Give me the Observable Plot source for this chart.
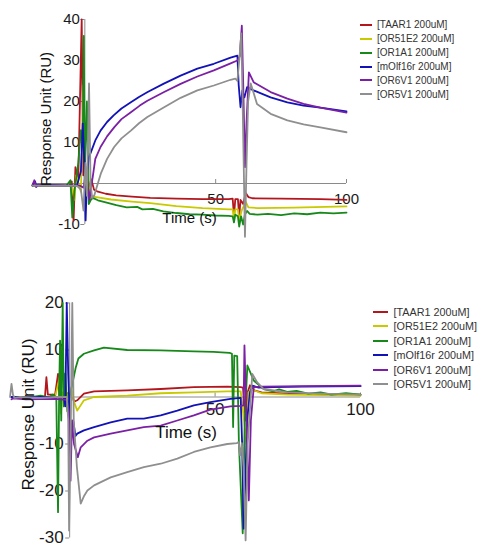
<!DOCTYPE html>
<html>
<head>
<meta charset="utf-8">
<script src="https://cdn.jsdelivr.net/npm/d3@7"></script>
<script src="https://cdn.jsdelivr.net/npm/@observablehq/plot@0.6"></script>
<style>
  body { margin: 0; background: #fff; font-family: "Liberation Sans", Arial, sans-serif; }
  #wrap { position: relative; width: 488px; height: 549px; overflow: hidden; }
  .panel { position: absolute; left: 0; }
  .legend { position: absolute; color: #333; }
  .row { display: flex; align-items: center; white-space: nowrap; }
  .sw { display: inline-block; height: 2px; }
</style>
</head>
<body>
<div id="wrap">
  <div id="top" class="panel" style="top:0px"></div>
  <div id="bot" class="panel" style="top:280px"></div>
  <div id="legTop" class="legend" style="left:360px; top:18px"></div>
  <div id="legBot" class="legend" style="left:373px; top:304.5px"></div>
</div>
<script>
// ---------- series labels & colours ----------
const seriesNames = ["[TAAR1 200uM]", "[OR51E2 200uM]", "[OR1A1 200uM]", "[mOlf16r 200uM]", "[OR6V1 200uM]", "[OR5V1 200uM]"];
const seriesColors = ["#b3161d", "#c9c900", "#17891a", "#1212b8", "#7b20a4", "#8f8f8f"];

// ---------- axis ticks ----------
const xTickValues = [50, 100];
const yTicksTop = [-10, 10, 20, 30, 40];
const yTicksBot = [-30, -20, -10, 10, 20];
const xLabel = "Time (s)";
const yLabel = "Response Unit (RU)";

// ---------- top panel: [time s, RU] ----------
const topTAAR1 = [[-20,-0.5],[-8,-0.5],[-6,-0.6],[-5,0.5],[-4.3,-9],[-3.6,4],[-2.5,1],[-1.2,40],[-0.6,2],[0.5,3],[1.5,-1],[2.5,1],[3.5,-1.5],[5,-2],[8,-2.5],[12,-2.9],[18,-3.2],[25,-3.5],[35,-3.7],[45,-3.8],[55,-3.8],[56.5,-3.7],[57,-8],[57.5,-3.8],[58.5,-3.8],[59,-8],[59.5,-4],[60.5,-5],[61.5,-2.3],[62.5,-3.3],[64,-3.6],[75,-3.7],[90,-3.8],[100,-4]];
const topOR51E2 = [[-20,-0.5],[-7,-0.5],[-5,-0.5],[-4,-4],[-3.3,2],[-1.5,-2],[-0.5,24],[0.2,-3],[1,3],[2,-3.5],[3,-3.2],[5,-3.4],[10,-3.9],[18,-4.4],[25,-4.8],[35,-5.5],[45,-6],[55,-6.3],[56.5,-6.3],[57,-8.5],[57.5,-6.3],[58.5,-6.3],[59,-9],[60,-6.5],[61.5,-4.5],[62.5,-5.8],[66,-6],[80,-5.9],[100,-5.6]];
const topOR1A1 = [[-20,-0.5],[-7,-0.5],[-5.5,0.8],[-4.8,-8.3],[-4,-2],[-2.5,5],[-1.5,13],[-0.8,10],[-0.4,36],[0,3],[0.8,20],[1.5,-5],[2.3,-4],[3,-3.5],[5,-4.1],[8,-4.6],[12,-5.3],[16,-5.8],[20,-5.7],[22,-6.3],[26,-6.2],[30,-6.8],[35,-7.2],[40,-7.5],[45,-7.6],[50,-7.8],[55,-7.9],[56.5,-8],[57,-9.5],[57.5,-7.6],[58.5,-8],[59,-10.5],[59.7,-8],[60.5,-10],[61.2,-7.5],[62,-6.7],[63,-7.4],[66,-7.6],[70,-7.4],[75,-7.7],[80,-7.3],[85,-7.5],[90,-7.1],[95,-7.3],[100,-7.1]];
const topMOlf16r = [[-20,-0.5],[-19,0.5],[-18.5,-0.8],[-18,-0.3],[-7,-0.5],[-3,-0.5],[-1.5,3],[-0.8,14.6],[-0.2,5],[0.3,-9],[0.9,3],[1.6,6.5],[2.3,7.6],[4,10.5],[6,12.9],[8.5,15],[11,16.6],[14,18.3],[17.6,19.8],[20.7,21.1],[24,22.3],[30,24.3],[36.6,26.3],[43,28],[49.3,29.2],[55.7,30.7],[58.3,31.2],[58.8,24],[59.5,18.6],[60.2,22.7],[61,21],[62,23.5],[64.5,22.7],[71,21],[77.4,19.8],[83.6,19],[90,18.5],[100,17.6]];
const topOR6V1 = [[-20,-0.3],[-19.3,0.8],[-18.7,-0.8],[-18,-0.4],[-7,-0.5],[-2,-0.5],[-0.5,-1],[0.5,3],[1.2,-1],[1.8,-4],[2.3,-1.3],[3,1.5],[4,6],[6,8.9],[8.5,11.5],[11.2,13.7],[14,15.7],[17.6,17.4],[21,19],[23.9,20.2],[30.3,22.3],[36.6,24.3],[43,26.1],[49.3,27.6],[55.7,29.3],[58.3,30],[59.2,31],[60,38.5],[60.5,25],[61.2,4],[61.8,15],[62.7,27.1],[64.5,24.7],[71,22.3],[77.4,20.7],[83.6,19.4],[90,18.5],[100,17.3]];
const topOR5V1 = [[-20,-0.5],[-7,-0.6],[-3,-0.6],[-1.5,-1.5],[-0.5,-6.6],[0.2,5],[0.8,-3],[1.6,24.4],[2.2,0],[2.8,-3.5],[3.6,-2.9],[4.5,-1],[6.1,2.4],[8.5,6],[11.2,8.9],[14,11],[17.6,12.9],[20.7,14.7],[23.9,16.2],[30.3,18.6],[36.6,20.9],[43,22.7],[49.3,23.9],[55.7,25.3],[57.5,25.6],[58.3,25],[59,30],[59.8,36.6],[60.3,20],[61.2,-13],[61.8,5],[62.4,20],[63.4,24.4],[65.8,19.4],[71,17],[77.4,15.4],[83.6,14.4],[90,13.7],[100,12.5]];

// ---------- bottom panel: [time s, RU] ----------
const botTAAR1 = [[-20,0],[-8.5,0],[-8,4.2],[-7.5,0.5],[-5,0.5],[-4,4.9],[-3.5,0],[-2,1],[-1,0.5],[0.5,1.5],[1.5,-1],[2.6,-0.7],[4.9,0.7],[8.4,1.2],[19.8,1.4],[31.3,1.7],[42.7,2.1],[54.2,2.2],[58.8,2.1],[59.6,2],[60.5,-5],[61.2,1],[62,2.5],[63.4,1.4],[66,1],[75,0.7],[100,0.5]];
const botOR51E2 = [[-20,0],[-5,0],[-3.3,4.6],[-3,-3.5],[-2.5,1],[-1,0],[0.5,2],[1.5,-1],[2.6,-2.9],[4.9,-0.7],[8.4,0],[19.8,0.3],[31.3,0.8],[42.7,1],[54.2,1.2],[58.8,1.2],[60,-5],[60.8,-10],[61.5,1],[63,1.5],[66,0.8],[75,0.5],[100,0.3]];
const botOR1A1 = [[-20,0],[-15,-0.2],[-10,0.3],[-7,-0.1],[-6,0.5],[-4.6,0],[-4,-24.5],[-3.6,2],[-3.3,12],[-2.9,-5],[-2.4,20],[-2,-2],[-1.5,5],[-0.8,-3],[0,0],[1,3],[2.1,6.3],[3,8.2],[4.9,9.2],[8.4,9.9],[11.8,10.5],[19.8,10],[31.3,9.9],[42.7,9.7],[49.5,9.6],[55,9.4],[55.8,9.2],[56.2,-6.4],[56.6,8.8],[57.6,8.7],[58.2,-10],[59.5,-29],[60.2,-5],[61.1,6.7],[63.3,3.5],[66.7,1.7],[70,1.2],[72,1.6],[74.8,1.1],[78,1.3],[82,0.7],[86.3,1],[90,0.5],[95,0.8],[100,0.5]];
const botMOlf16r = [[-20,0],[-2,0],[-1.5,-2],[-1,20],[-0.5,5],[0,-4],[0.5,-8],[1.2,-5],[2,-8.3],[2.6,-7.8],[4.9,-7.1],[8.4,-6.4],[14.1,-5.4],[19.8,-4.6],[25.5,-4.6],[31.3,-3.9],[37,-2.9],[42.7,-1.8],[48.4,-1.1],[55.3,-0.4],[58.8,-0.2],[59.3,-10],[59.8,-28],[60.3,-20],[61,-5],[62,1],[62.8,2.4],[65,2],[70,2.1],[80,2.2],[100,2.3]];
const botOR6V1 = [[-20,-0.5],[-19.5,-0.3],[-15,-0.5],[-5,-0.4],[-1,-0.6],[-0.3,-3],[0.3,-17.8],[0.8,-5],[1.5,-10],[2.8,-12.8],[3.8,-10.7],[6.1,-9.3],[8.4,-8.6],[14.1,-7.8],[19.8,-7.1],[25.5,-6.4],[31.3,-6.1],[37,-5],[42.7,-3.9],[48.4,-2.7],[55.3,-2],[58.8,-1.9],[59.8,-1.8],[60.1,11],[60.8,-5],[61.6,-22],[62.3,-5],[63.3,2.1],[66,2.2],[80,2.3],[100,2.4]];
const botOR5V1 = [[-20.5,0],[-20,2.8],[-19.5,0.5],[-19,-0.2],[-17,0],[-10,-0.2],[-5,0],[-1,0],[-0.5,-5],[-0.2,-28.4],[0.3,-10],[0.9,20],[1.4,-5],[2.5,-15],[3.8,-22.7],[5,-21],[6.1,-19.9],[8.4,-18.8],[14.1,-17.1],[19.8,-16],[25.5,-14.9],[31.3,-14.2],[37,-13.1],[42.7,-11.7],[48.4,-10.7],[54.2,-10],[57.5,-9.8],[58.1,-9.6],[58.6,-12.4],[59.2,-9.8],[59.8,-15],[60.5,-30.5],[61.2,-10],[62.8,4.9],[64.5,3.1],[66.7,1.7],[74.8,1],[86.3,0.7],[100,0.5]];

const topSeries = [topTAAR1, topOR51E2, topOR1A1, topMOlf16r, topOR6V1, topOR5V1];
const botSeries = [botTAAR1, botOR51E2, botOR1A1, botMOlf16r, botOR6V1, botOR5V1];

function toRows(seriesList) {
  const rows = [];
  seriesList.forEach((pts, i) => pts.forEach(([t, v]) => rows.push({series: seriesNames[i], t, v})));
  return rows;
}

function panel(seriesList, yTicks, cfg) {
  const rows = toRows(seriesList);
  return Plot.plot({
    width: 488, height: cfg.height,
    marginLeft: cfg.ml, marginRight: cfg.mr, marginTop: cfg.mt, marginBottom: cfg.mb,
    x: {domain: [-20, 100], axis: null},
    y: {domain: cfg.ydom, axis: null},
    color: {domain: seriesNames, range: seriesColors},
    style: {fontFamily: '"Liberation Sans", Arial, sans-serif', background: "white", color: "#111", overflow: "visible"},
    marks: [
      // axis lines crossing at origin
      Plot.ruleY([0], {stroke: "#8a8a8a", strokeWidth: 1}),
      Plot.ruleX([0], {stroke: "#8a8a8a", strokeWidth: 1}),
      // y tick marks + labels
      Plot.ruleY(yTicks, {y: d => d, x1: () => 0, x2: () => 0, insetLeft: -4, stroke: "#8a8a8a"}),
      Plot.text(yTicks, {x: () => 0, y: d => d, text: d => String(d), textAnchor: "end", dx: cfg.ydx, fontSize: cfg.fs, fill: "#1a1a1a"}),
      // x tick marks + labels
      Plot.ruleX(xTickValues, {x: d => d, y1: () => 0, y2: () => 0, insetTop: -4, stroke: "#8a8a8a"}),
      Plot.text(xTickValues, {x: d => d, y: () => 0, text: d => String(d), dy: cfg.xdy, fontSize: cfg.fs, fill: "#1a1a1a"}),
      // data
      Plot.line(rows, {x: "t", y: "v", z: "series", stroke: "series", strokeWidth: 1.8, strokeLinejoin: "round"}),
      // axis titles
      Plot.text([xLabel], {frameAnchor: cfg.xlAnchor, textAnchor: "middle", lineAnchor: "middle", dy: cfg.xlDy, fontSize: cfg.fs, fill: "#111"}),
      Plot.text([yLabel], {frameAnchor: "left", textAnchor: "middle", lineAnchor: "middle", rotate: -90, dx: cfg.ylDx, dy: cfg.ylDy, fontSize: cfg.fs, fill: "#111"})
    ]
  });
}

document.getElementById("top").append(panel(topSeries, yTicksTop, {
  height: 240, ml: 32, mr: 142, mt: 19, mb: 16, ydom: [-10, 40],
  fs: 15, ydx: -5, xdy: 16, xlAnchor: "bottom", xlDy: -6, ylDx: 13.5, ylDy: -3
}));
document.getElementById("bot").append(panel(botSeries, yTicksBot, {
  height: 269, ml: 11, mr: 128, mt: 22.5, mb: 11.5, ydom: [-30, 20],
  fs: 17, ydx: -6, xdy: 13, xlAnchor: "middle", xlDy: 11.7, ylDx: 17.3, ylDy: -6
}));

function legend(el, rowH, lineW, gap, fontSize) {
  seriesNames.forEach((name, i) => {
    const row = document.createElement("div");
    row.className = "row";
    row.style.height = rowH + "px";
    row.style.fontSize = fontSize + "px";
    const sw = document.createElement("span");
    sw.className = "sw";
    sw.style.width = lineW + "px";
    sw.style.background = seriesColors[i];
    sw.style.marginRight = gap + "px";
    const tx = document.createElement("span");
    tx.textContent = name;
    row.append(sw, tx);
    el.append(row);
  });
}
legend(document.getElementById("legTop"), 13.86, 12, 5, 10);
legend(document.getElementById("legBot"), 14.5, 15, 5.5, 10.8);
</script>
</body>
</html>
